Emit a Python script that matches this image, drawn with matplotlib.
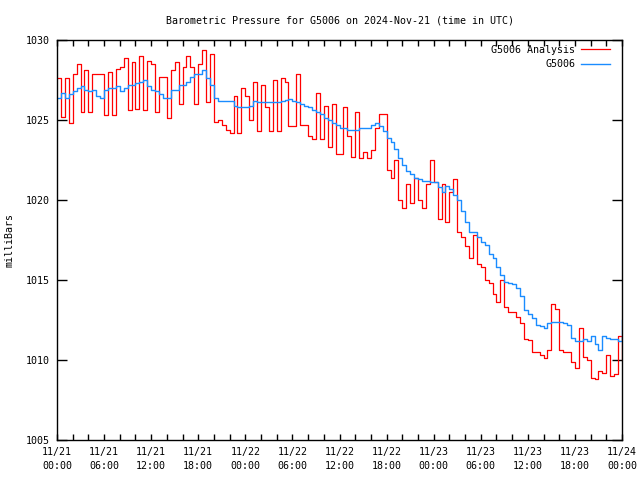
import matplotlib
matplotlib.use("Agg")
import matplotlib.pyplot as plt
import matplotlib.dates as mdates
import pandas as pd
import numpy as np

title = "Barometric Pressure for G5006 on 2024-Nov-21 (time in UTC)"
ylabel = "milliBars"
series_names = ["G5006 Analysis", "G5006"]
x_tick_labels = ["11/21\n00:00", "11/21\n06:00", "11/21\n12:00", "11/21\n18:00",
                 "11/22\n00:00", "11/22\n06:00", "11/22\n12:00", "11/22\n18:00",
                 "11/23\n00:00", "11/23\n06:00", "11/23\n12:00", "11/23\n18:00",
                 "11/24\n00:00"]
y_ticks = [1005, 1010, 1015, 1020, 1025, 1030]

# half-hourly readings starting 2024-11-21 00:00 UTC
analysis = [
    1027.6, 1025.2, 1027.6, 1024.8, 1027.9, 1028.5, 1025.5, 1028.1, 1025.5, 1027.9, 1027.9, 1027.9,
    1025.3, 1028.0, 1025.3, 1028.2, 1028.3, 1028.9, 1025.6, 1028.6, 1025.7, 1029.0, 1025.6, 1028.7,
    1028.5, 1025.5, 1027.7, 1027.7, 1025.1, 1028.1, 1028.6, 1026.0, 1028.3, 1029.0, 1028.3, 1026.0,
    1028.5, 1029.4, 1026.1, 1029.1, 1024.9, 1025.0, 1024.7, 1024.4, 1024.2, 1026.5, 1024.2, 1027.0,
    1026.5, 1025.0, 1027.4, 1024.3, 1027.2, 1025.8, 1024.3, 1027.5, 1024.3, 1027.6, 1027.4, 1024.6,
    1024.6, 1027.9, 1024.7, 1024.7, 1024.0, 1023.8, 1026.7, 1023.8, 1025.9, 1023.3, 1026.0, 1022.9,
    1022.9, 1025.8, 1024.0, 1022.7, 1025.5, 1022.6, 1023.0, 1022.6, 1023.1, 1024.5, 1025.4, 1025.4,
    1021.9, 1021.4, 1022.5, 1020.0, 1019.5, 1021.0, 1019.8, 1021.4, 1020.0, 1019.5, 1021.0, 1022.5,
    1021.1, 1018.8, 1021.0, 1018.6, 1020.5, 1021.3, 1018.0, 1017.7, 1017.1, 1016.4, 1017.8, 1016.0,
    1015.8, 1015.0, 1014.8, 1014.1, 1013.6, 1015.0, 1013.3, 1013.0, 1013.0, 1012.7, 1012.3, 1011.3,
    1011.25, 1010.5, 1010.5, 1010.3, 1010.1, 1010.6, 1013.5, 1013.2, 1010.6, 1010.5, 1010.5, 1009.9,
    1009.5, 1012.0, 1010.2, 1010.0, 1008.9, 1008.8, 1009.3, 1009.2, 1010.3, 1009.0, 1009.1, 1011.5,
    1010.0,
]
station = [
    1026.4, 1026.7, 1026.4, 1026.6, 1026.8, 1027.0, 1027.1, 1026.9, 1026.8, 1026.9, 1026.5, 1026.4,
    1026.9, 1027.0, 1027.0, 1027.1, 1026.8, 1027.0, 1027.2, 1027.2, 1027.3, 1027.4, 1027.5, 1027.1,
    1026.9, 1026.8, 1026.6, 1026.4, 1026.4, 1026.9, 1026.9, 1027.2, 1027.2, 1027.4, 1027.7, 1027.9,
    1027.9, 1028.1, 1027.6, 1027.2, 1026.4, 1026.2, 1026.2, 1026.2, 1026.2, 1025.9, 1025.8, 1025.8,
    1025.8, 1025.9, 1026.2, 1026.1, 1026.1, 1026.1, 1026.1, 1026.1, 1026.1, 1026.2, 1026.25, 1026.3,
    1026.2, 1026.1, 1026.0, 1025.9, 1025.8, 1025.6, 1025.5, 1025.4, 1025.1, 1025.0, 1024.8, 1024.7,
    1024.5, 1024.5, 1024.4, 1024.4, 1024.4, 1024.5, 1024.5, 1024.5, 1024.7, 1024.8, 1024.6, 1024.3,
    1023.9, 1023.6, 1023.2, 1022.6, 1022.2, 1021.8, 1021.6, 1021.4, 1021.3, 1021.2, 1021.2, 1021.1,
    1021.1, 1020.8, 1020.5, 1020.9, 1020.7, 1020.3, 1020.0, 1019.3, 1018.6, 1018.0, 1018.0, 1017.7,
    1017.4, 1017.2, 1016.6, 1016.4, 1015.8, 1015.3, 1014.9, 1014.8, 1014.75, 1014.5, 1014.0, 1013.1,
    1012.9, 1012.6, 1012.2, 1012.1, 1012.0, 1012.3, 1012.4, 1012.4, 1012.4, 1012.3, 1012.2, 1011.4,
    1011.2, 1011.2, 1011.3, 1011.2, 1011.5, 1011.0, 1010.6, 1011.5, 1011.4, 1011.3, 1011.3, 1011.2,
    1012.5,
]

times = pd.date_range("2024-11-21 00:00", periods=len(station), freq="30min")
t0 = pd.Timestamp("2024-11-21 00:00")
t1 = pd.Timestamp("2024-11-24 00:00")

plt.rcParams['font.family'] = ['DejaVu Sans Mono']
fig = plt.figure(figsize=(6.4, 4.8), dpi=100)
ax = fig.add_axes([57/640, 40/480, 565/640, 400/480])

ax.plot(times, analysis, drawstyle="steps-post", color="#ff0000", lw=0.9, label=series_names[0])
ax.plot(times, station, drawstyle="steps-post", color="#1a8cff", lw=1.0, label=series_names[1])

ax.set_xlim(t0, t1)
ax.set_ylim(1005, 1030)
ax.set_yticks(y_ticks)
ax.set_yticklabels([str(v) for v in y_ticks], fontsize=7.2)
major = pd.date_range(t0, t1, freq="6h")
ax.set_xticks(major)
ax.set_xticklabels(x_tick_labels, fontsize=7.2, linespacing=1.5)
ax.xaxis.set_minor_locator(mdates.HourLocator(interval=2))
ax.tick_params(axis="x", which="both", direction="in", length=4, width=1, top=True, pad=5)
ax.tick_params(axis="y", which="both", direction="in", length=7, width=1, right=True, pad=5)
for s in ax.spines.values():
    s.set_linewidth(1)
    s.set_color("black")

ax.set_title(title, fontsize=7.2, pad=12)
ax.set_ylabel(ylabel, fontsize=7.2, labelpad=8)

leg = ax.legend(loc="upper right", bbox_to_anchor=(1 - 12/565, 1 - 5/400),
                frameon=False, markerfirst=False, fontsize=7.2,
                handlelength=2.9, handletextpad=0.6, borderaxespad=0.0, labelspacing=0.45,
                borderpad=0.0)
for t in leg.get_texts():
    t.set_ha("right")

fig.savefig("out.png", dpi=100)
